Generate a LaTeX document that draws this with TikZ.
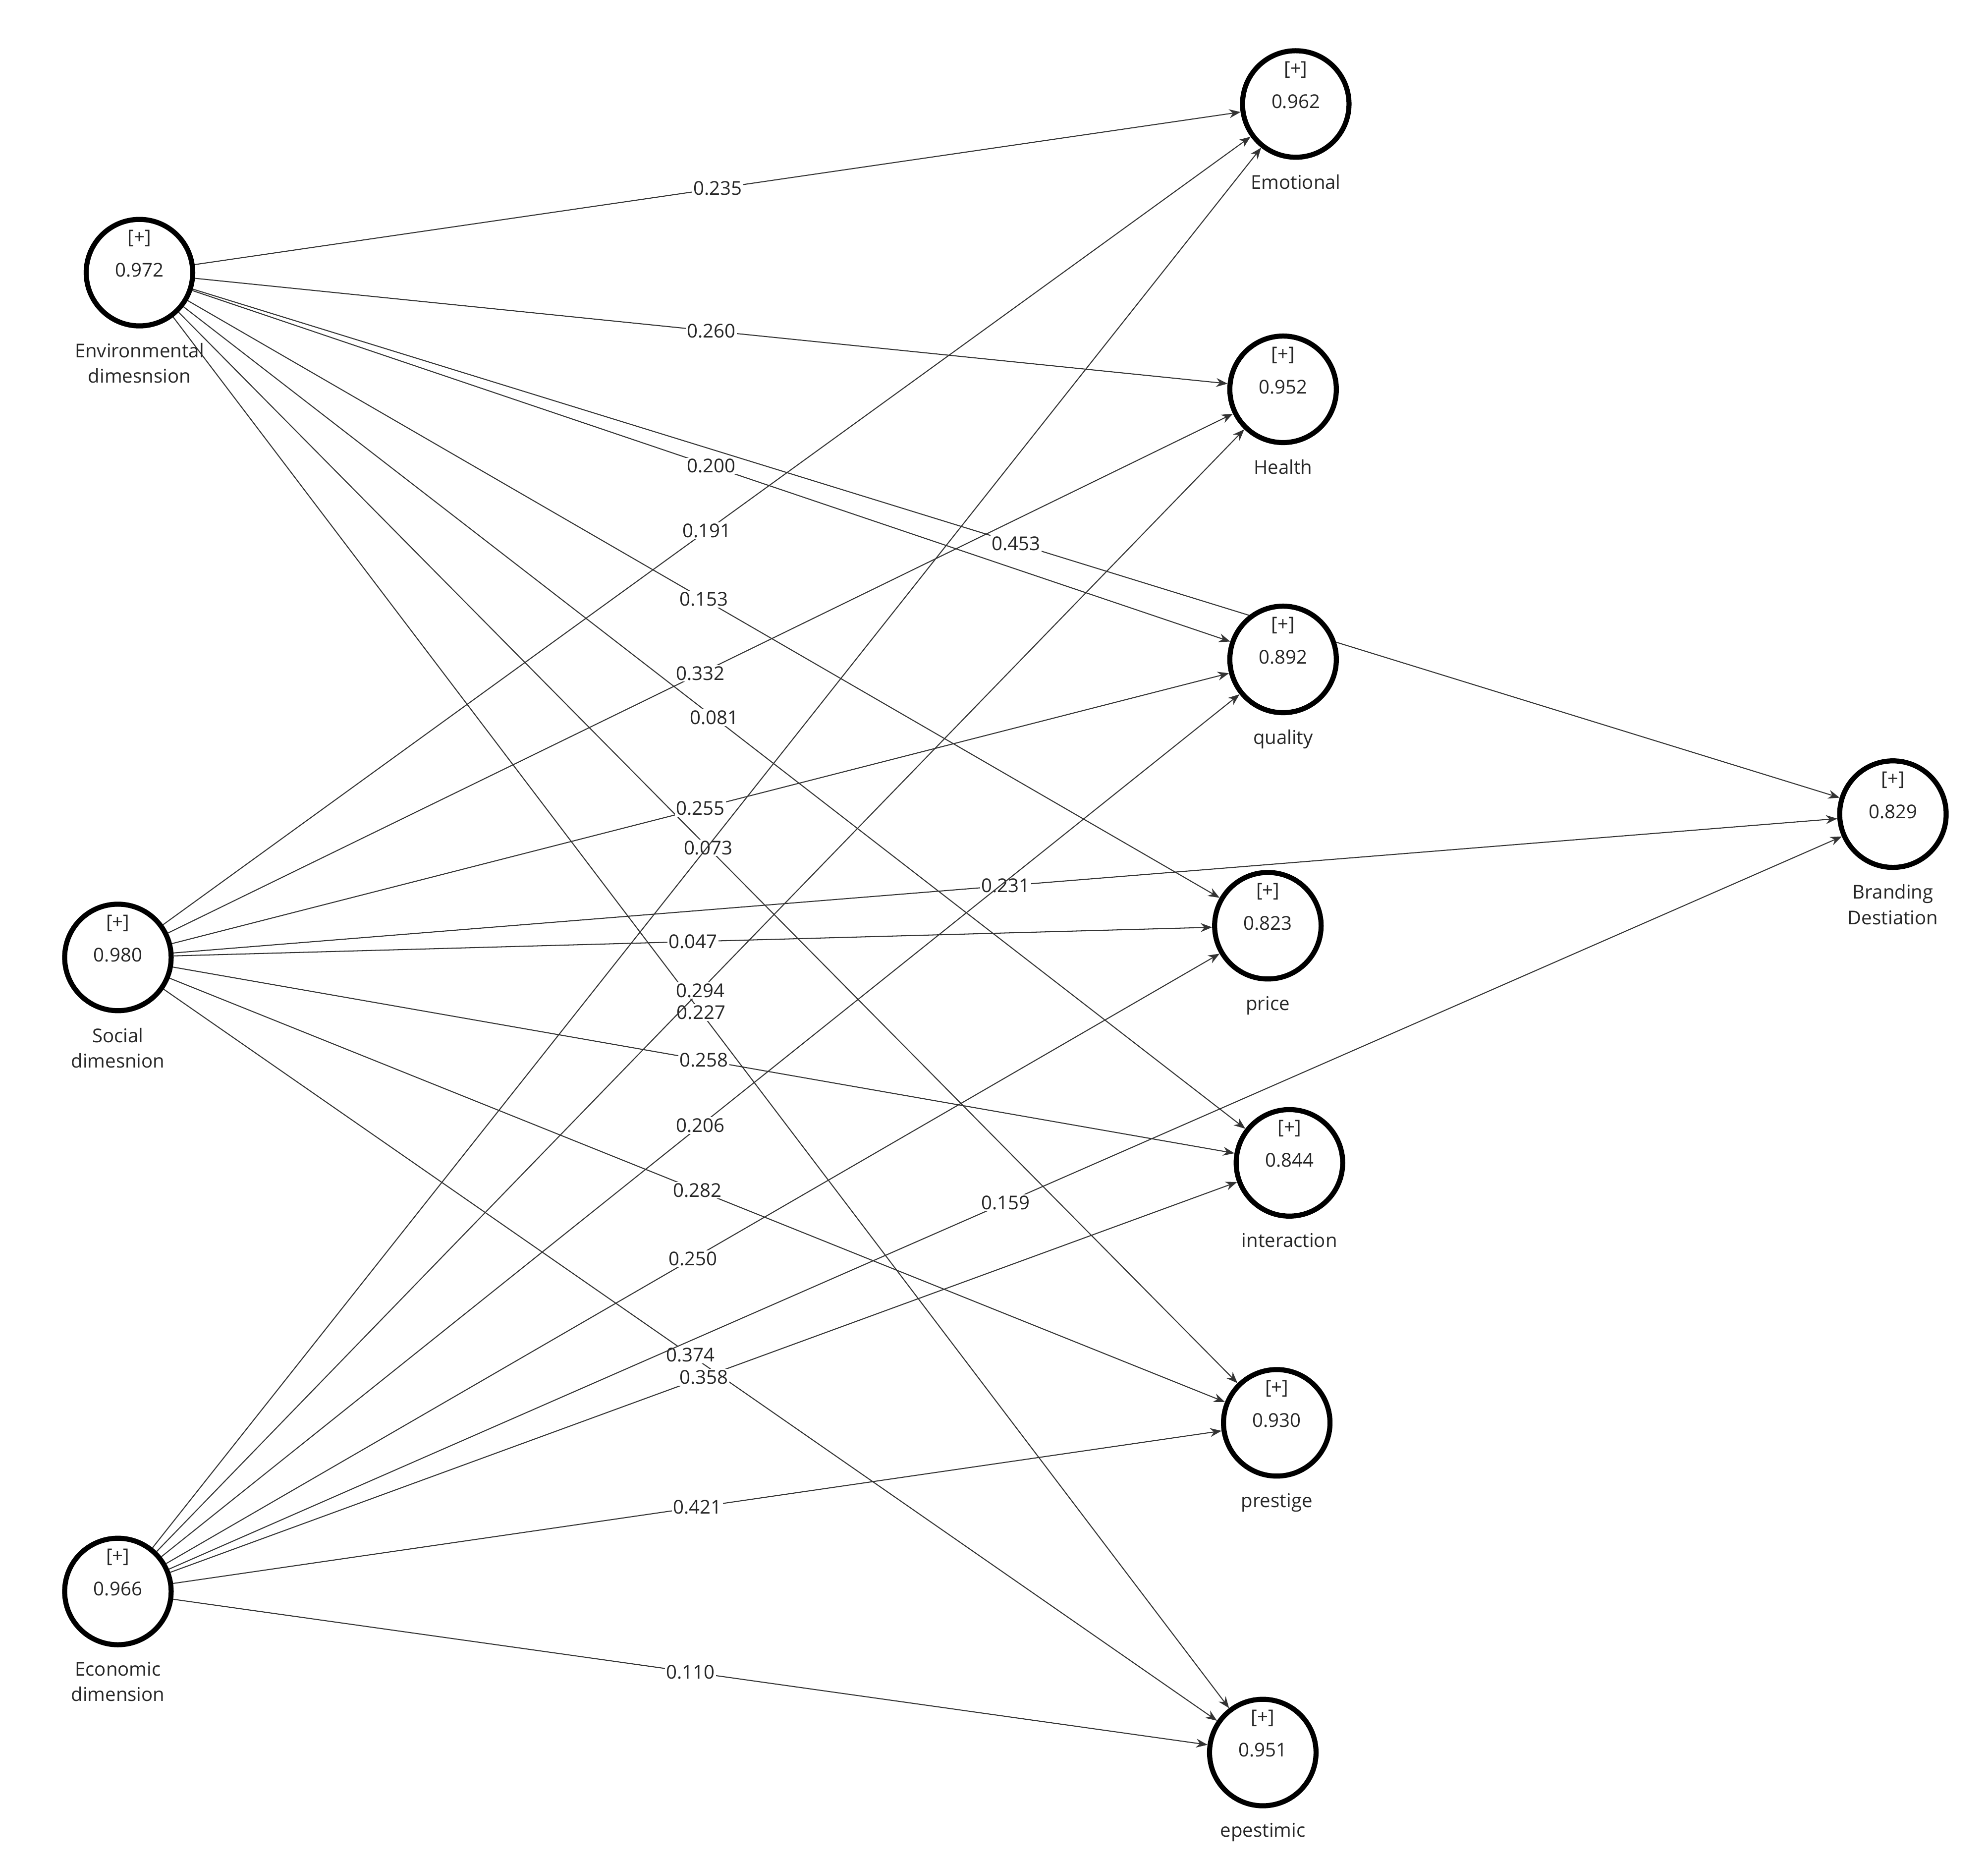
\documentclass[tikz,border=0pt]{standalone}
\usepackage{fontspec}
\setmainfont{Open Sans}
\usetikzlibrary{arrows.meta,backgrounds}
\begin{document}
\begin{tikzpicture}[x=1pt,y=-1pt,
 lv/.style={circle,draw=black,line width=4pt,fill=white,minimum size=84pt,inner sep=0pt},
 nm/.style={font=\fontsize{15}{20}\selectfont,align=center,text=black!85},
 vl/.style={font=\fontsize{15}{18}\selectfont,text=black!85},
 ed/.style={-{Stealth[length=9pt,width=7pt]},line width=0.8pt,draw=black!80},
 lab/.style={midway,fill=white,inner sep=1pt,font=\fontsize{15}{18}\selectfont,text=black!85}]
\useasboundingbox (0,0) rectangle (1568,1468);
\foreach \n/\x/\y/\v/\t in {env/110/215/0.972/{Environmental\\dimesnsion},soc/93/755/0.980/{Social\\dimesnion},eco/93/1255/0.966/{Economic\\dimension},emo/1022/82/0.962/Emotional,hea/1012/307/0.952/Health,qua/1012/520/0.892/quality,pri/1000/730/0.823/price,int/1017/917/0.844/interaction,pre/1007/1122/0.930/prestige,epe/996/1382/0.951/epestimic,bra/1493/642/0.829/{Branding\\Destiation}}{
 \node[lv] (\n) at (\x,\y) {};
 \node[vl] (\n v) at (\x,\y-2) {\v};
 \node[vl] (\n p) at (\x,\y-27) {[+]};
 \node[nm,anchor=north] (\n t) at (\x,\y+52) {\t};
}
\begin{pgfonlayer}{background}
\draw[ed] (env) -- (emo) node[lab]{0.235};
\draw[ed] (env) -- (hea) node[lab]{0.260};
\draw[ed] (env) -- (qua) node[lab]{0.200};
\draw[ed] (env) -- (bra) node[lab]{0.453};
\draw[ed] (env) -- (pri) node[lab]{0.153};
\draw[ed] (env) -- (int) node[lab]{0.081};
\draw[ed] (env) -- (pre) node[lab]{0.073};
\draw[ed] (env) -- (epe) node[lab]{0.227};
\draw[ed] (soc) -- (emo) node[lab]{0.191};
\draw[ed] (soc) -- (hea) node[lab]{0.332};
\draw[ed] (soc) -- (qua) node[lab]{0.255};
\draw[ed] (soc) -- (bra) node[lab]{0.231};
\draw[ed] (soc) -- (pri) node[lab]{0.047};
\draw[ed] (soc) -- (int) node[lab]{0.258};
\draw[ed] (soc) -- (pre) node[lab]{0.282};
\draw[ed] (soc) -- (epe) node[lab]{0.374};
\draw[ed] (eco) -- (emo);
\draw[ed] (eco) -- (hea) node[lab]{0.294};
\draw[ed] (eco) -- (qua) node[lab]{0.206};
\draw[ed] (eco) -- (pri) node[lab]{0.250};
\draw[ed] (eco) -- (bra) node[lab]{0.159};
\draw[ed] (eco) -- (int) node[lab]{0.358};
\draw[ed] (eco) -- (pre) node[lab]{0.421};
\draw[ed] (eco) -- (epe) node[lab]{0.110};
\end{pgfonlayer}
\end{tikzpicture}
\end{document}
